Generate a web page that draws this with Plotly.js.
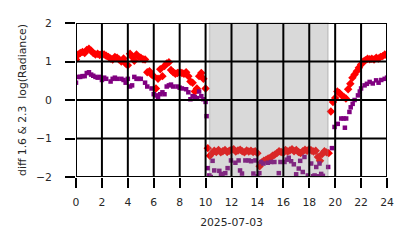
<!DOCTYPE html>
<html>
<head>
<meta charset="utf-8">
<script src="https://cdn.plot.ly/plotly-3.0.1.min.js"></script>
<style>html,body{margin:0;padding:0;background:#fff;}#chart{width:414px;height:248px;}</style>
</head>
<body>
<div id="chart"></div>
<script>
// Hours of day (2025-07-03) and values
const redHours = [0.00,0.17,0.33,0.50,0.67,0.83,1.00,1.17,1.33,1.50,1.67,1.83,2.00,2.17,2.33,2.50,2.67,2.83,3.00,3.17,3.33,3.50,3.67,3.83,4.00,4.17,4.33,4.50,4.67,4.83,5.00,5.17,5.33,5.50,5.67,5.83,6.00,6.17,6.33,6.50,6.67,6.83,7.00,7.17,7.33,7.50,7.67,7.83,8.00,8.17,8.33,8.50,8.67,8.83,9.00,9.17,9.33,9.50,9.67,9.83,10.00,
  10.17,10.33,10.50,10.67,10.83,11.00,11.17,11.33,11.50,11.67,11.83,12.00,12.17,12.33,12.50,12.67,12.83,13.00,13.17,13.33,13.50,13.67,13.83,14.00,14.17,14.33,14.50,14.67,14.83,15.00,15.17,15.33,15.50,15.67,15.83,16.00,16.17,16.33,16.50,16.67,16.83,17.00,17.17,17.33,17.50,17.67,17.83,18.00,18.17,18.33,18.50,18.67,18.83,19.00,19.17,19.33,19.50,
  19.67,19.83,20.00,20.17,20.33,20.50,20.67,20.83,21.00,21.17,21.33,21.50,21.67,21.83,22.00,22.17,22.33,22.50,22.67,22.83,23.00,23.17,23.33,23.50,23.67,23.83,24.00];
const redValues = [1.05,1.18,1.22,1.25,1.22,1.30,1.33,1.28,1.22,1.18,1.20,1.17,1.20,1.18,1.15,1.12,1.08,1.05,1.12,1.10,1.05,1.00,1.08,0.95,0.90,1.20,1.12,1.02,1.18,1.12,1.10,1.06,1.05,0.72,0.75,0.66,0.62,0.30,0.55,0.80,0.62,0.88,0.95,0.98,0.78,0.72,0.68,0.70,0.72,0.70,0.68,0.72,0.62,0.48,0.45,0.22,0.30,0.62,0.70,0.55,0.30,
  -1.25,-1.45,-1.38,-1.32,-1.35,-1.30,-1.36,-1.33,-1.30,-1.35,-1.32,-1.29,-1.28,-1.34,-1.31,-1.29,-1.33,-1.36,-1.31,-1.34,-1.32,-1.35,-1.33,-1.38,-1.72,-1.62,-1.58,-1.55,-1.52,-1.50,-1.45,-1.42,-1.38,-1.33,-1.35,-1.37,-1.30,-1.34,-1.31,-1.28,-1.33,-1.30,-1.35,-1.38,-1.33,-1.29,-1.32,-1.28,-1.31,-1.34,-1.32,-1.48,-1.58,-1.40,-1.33,-1.36,-1.38,
  -0.30,-0.05,0.05,0.22,0.18,0.12,0.08,0.04,0.28,0.42,0.58,0.66,0.75,0.84,0.92,1.00,1.03,1.07,1.06,1.07,1.05,1.10,1.08,1.12,1.14,1.18,1.15];

const purpleHours = [0.00,0.17,0.33,0.50,0.67,0.83,1.00,1.17,1.33,1.50,1.67,1.83,2.00,2.17,2.33,2.67,2.83,3.00,3.17,3.50,3.67,3.83,4.00,4.17,4.33,4.50,4.67,4.83,5.00,5.33,5.50,5.83,6.00,6.17,6.33,6.50,6.67,6.83,7.00,7.17,7.33,7.50,7.83,8.00,8.17,8.50,8.67,8.83,9.00,9.17,9.33,9.50,9.67,9.83,10.00,10.08,
  10.17,10.29,10.40,10.54,10.67,11.06,11.19,11.30,11.52,11.70,11.96,12.30,12.55,12.66,12.81,13.07,13.33,13.51,13.69,13.84,14.00,14.15,14.28,14.46,14.80,15.06,15.31,15.65,15.78,16.09,16.27,16.42,16.60,16.81,16.99,17.19,17.30,17.50,17.63,17.89,18.15,18.30,18.41,18.54,18.70,18.79,18.92,19.05,19.46,19.75,
  19.95,20.20,20.47,20.65,20.75,20.85,21.10,21.20,21.35,21.50,21.76,21.90,22.00,22.27,22.45,22.66,22.90,23.16,23.35,23.56,23.82,24.00];
const purpleValues = [0.45,0.60,0.60,0.62,0.62,0.70,0.72,0.66,0.63,0.60,0.58,0.60,0.52,0.58,0.55,0.48,0.55,0.58,0.55,0.55,0.52,0.45,0.55,0.35,0.38,0.60,0.55,0.55,0.55,0.45,0.35,0.30,0.15,0.12,0.05,0.15,0.20,0.15,0.35,0.38,0.40,0.35,0.35,0.32,0.30,0.28,0.20,0.02,0.10,0.08,0.05,0.22,0.10,0.02,-0.05,-0.42,
  -1.77,-1.96,-2.00,-1.58,-1.83,-1.84,-1.92,-2.00,-1.90,-1.77,-1.57,-1.63,-1.57,-1.83,-1.91,-1.57,-1.57,-1.59,-1.91,-1.57,-1.98,-1.90,-1.61,-1.65,-1.63,-1.61,-1.61,-1.90,-1.61,-1.61,-1.55,-1.50,-1.59,-1.67,-1.93,-1.78,-1.58,-1.87,-1.48,-1.96,-1.65,-1.98,-1.96,-1.74,-1.98,-1.65,-1.92,-1.97,-1.74,-1.25,
  -0.70,-0.62,-0.48,-0.48,-0.72,-0.48,-0.31,-0.19,-0.10,0.00,0.12,0.22,0.30,0.38,0.42,0.47,0.43,0.51,0.45,0.52,0.55,0.58];

const shadeStart = 10.3, shadeEnd = 19.45;
const xTicks = [0,2,4,6,8,10,12,14,16,18,20,22,24];
const yTicks = [-2,-1,0,1,2];
const xTitle = '2025-07-03';
const yTitle = 'diff 1.6 &amp; 2.3  log(Radiance)';

const txt = {family: 'DejaVu Sans', size: 10.8, color: '#262626'};

const traces = [
  {x: redHours, y: redValues, type: 'scatter', mode: 'markers',
   marker: {symbol: 'diamond', size: 6.5, color: 'red', line: {width: 0}}, hoverinfo: 'skip'},
  {x: purpleHours, y: purpleValues, type: 'scatter', mode: 'markers',
   marker: {symbol: 'square', size: 4.5, color: 'purple', line: {width: 0}}, hoverinfo: 'skip'}
];

const shapes = [{type: 'rect', xref: 'x', yref: 'paper', x0: shadeStart, x1: shadeEnd, y0: 0, y1: 1,
  fillcolor: 'rgba(128,128,128,0.3)', line: {color: 'rgba(128,128,128,0.3)', width: 1.5}, layer: 'above'}];
xTicks.forEach(t => shapes.push({type: 'line', xref: 'x', yref: 'paper', x0: t, x1: t, y0: 0, y1: 1,
  line: {color: 'black', width: 2}, layer: 'above'}));
yTicks.forEach(t => shapes.push({type: 'line', xref: 'paper', yref: 'y', x0: 0, x1: 1, y0: t, y1: t,
  line: {color: 'black', width: 2}, layer: 'above'}));

const layout = {
  width: 414, height: 248,
  margin: {l: 76, r: 27, t: 23, b: 71},
  paper_bgcolor: 'white', plot_bgcolor: 'white',
  showlegend: false,
  font: txt,
  xaxis: {range: [0, 24], tickvals: xTicks, ticktext: xTicks.map(String), showgrid: false, zeroline: false,
    ticks: 'outside', ticklen: 10, tickwidth: 2, tickcolor: 'black', showline: false,
    ticklabelstandoff: 5, tickfont: txt,
    title: {text: xTitle, font: txt, standoff: 10}},
  yaxis: {range: [-2, 2], tickvals: yTicks, showgrid: false, zeroline: false,
    ticks: 'outside', ticklen: 10, tickwidth: 2, tickcolor: 'black', showline: false,
    ticklabelstandoff: 11, tickfont: txt,
    title: {text: yTitle, font: txt, standoff: 7}},
  shapes: shapes
};

Plotly.newPlot('chart', traces, layout, {displayModeBar: false, staticPlot: true});
</script>
</body>
</html>
